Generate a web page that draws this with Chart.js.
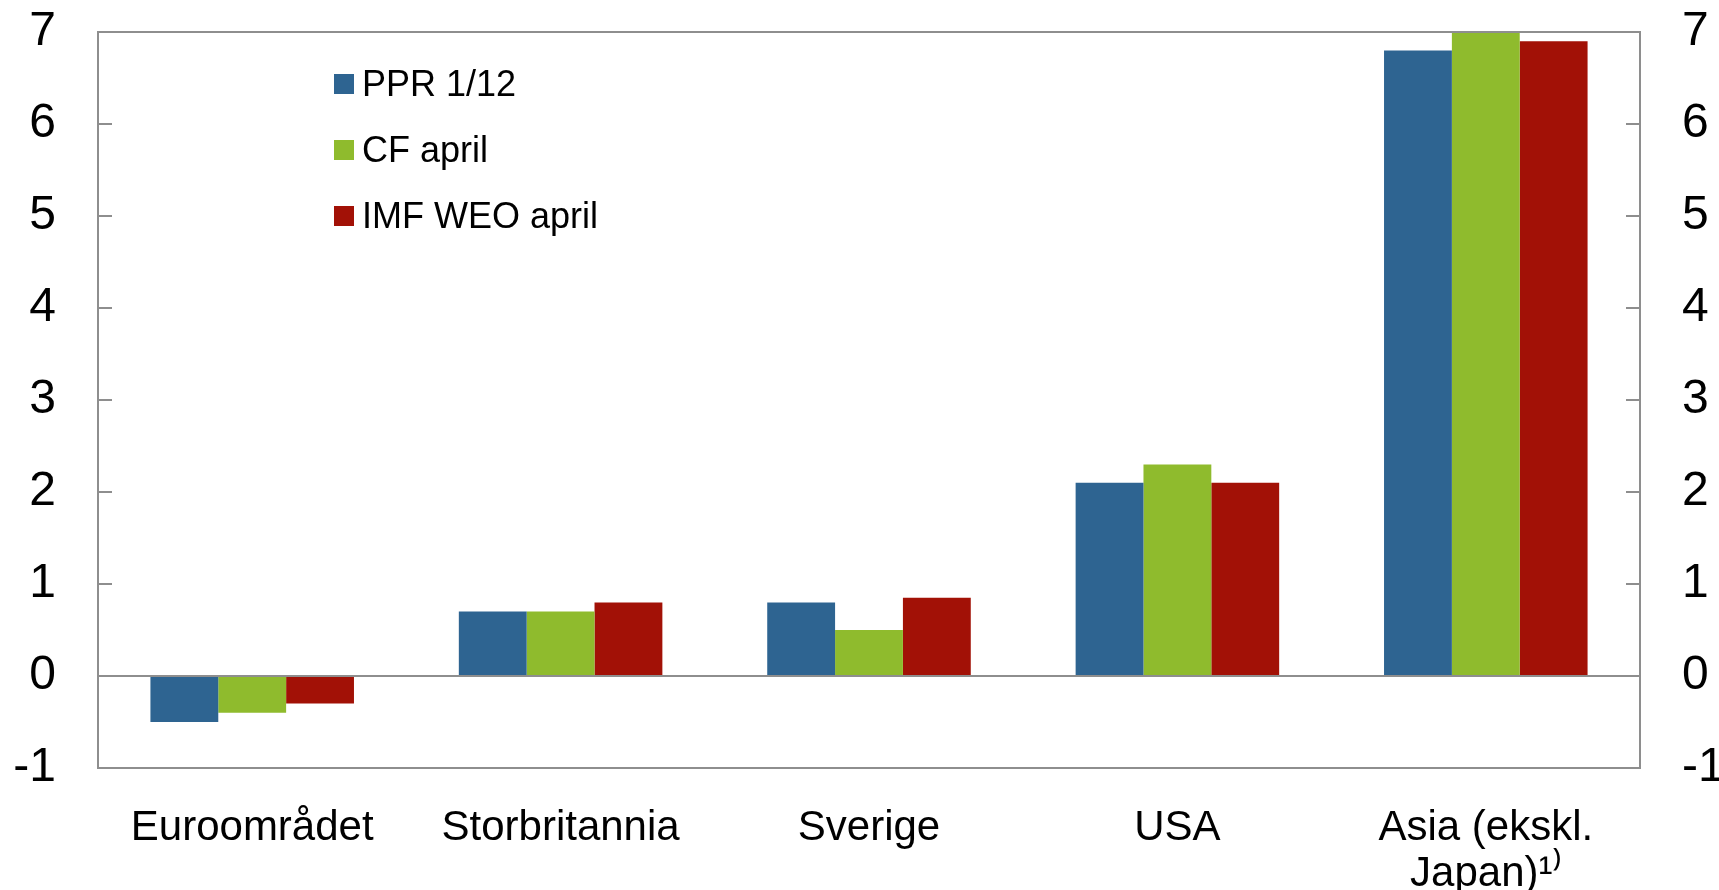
<!DOCTYPE html>
<html>
<head>
<meta charset="utf-8">
<script src="https://cdn.jsdelivr.net/npm/chart.js@4.4.1/dist/chart.umd.min.js"></script>
<style>
  html, body { margin: 0; padding: 0; background: #fff; }
  #wrap { position: relative; width: 1719px; height: 890px; overflow: hidden; }
  #legend { position: absolute; left: 334px; top: 64px; font-family: 'Liberation Sans', Arial, sans-serif; font-size: 36px; color: #000; }
  .rad { display: flex; align-items: center; height: 40px; margin-bottom: 26px; white-space: nowrap; }
  .boks { width: 20px; height: 20px; margin-right: 8px; flex: none; }
</style>
</head>
<body>
<div id="wrap">
  <canvas id="graf" width="1719" height="890"></canvas>
  <div id="legend"></div>
</div>
<script>
// Data
const kategorier = ['Euroområdet', 'Storbritannia', 'Sverige', 'USA', ['Asia (ekskl.', 'Japan)¹⁾']];
const serieNavn = ['PPR 1/12', 'CF april', 'IMF WEO april'];
const ppr = [-0.5, 0.7, 0.8, 2.1, 6.8];
const cf = [-0.4, 0.7, 0.5, 2.3, 7.0];
const imf = [-0.3, 0.8, 0.85, 2.1, 6.9];
const yTicks = [-1, 0, 1, 2, 3, 4, 5, 6, 7];

const farger = ['#2E6491', '#8FBB2D', '#A21106'];
const gra = '#8E8E8E';
const font = "'Liberation Sans', Arial, sans-serif";

// tegner innvendige tick-streker og topplinje
const innerTicks = {
    id: 'innerTicks',
    afterDraw(chart) {
        const c = chart.ctx;
        const area = chart.chartArea;
        const y = chart.scales.y;
        c.save();
        c.strokeStyle = gra;
        c.lineWidth = 2;
        c.beginPath();
        c.moveTo(area.left, area.top);
        c.lineTo(area.right, area.top);
        yTicks.forEach(v => {
            const py = Math.round(y.getPixelForValue(v));
            c.moveTo(area.left, py);
            c.lineTo(area.left + 14, py);
            c.moveTo(area.right - 14, py);
            c.lineTo(area.right, py);
        });
        c.stroke();
        c.restore();
    }
};

const yAkse = (pos) => ({
    position: pos,
    min: -1,
    max: 7,
    afterBuildTicks: (s) => { s.ticks = yTicks.map(v => ({ value: v })); },
    afterFit: (s) => {
        s.width = pos === 'left' ? 98 : 79;
        s.paddingTop = 0;
        s.paddingBottom = 0;
    },
    ticks: {
        color: '#000',
        padding: pos === 'left' ? 42 : 42,
        font: { size: 48, family: font }
    },
    grid: {
        display: pos === 'left',
        drawTicks: false,
        lineWidth: 2,
        color: (ctx) => (ctx.tick && ctx.tick.value === 0) ? gra : 'transparent'
    },
    border: { display: true, color: gra, width: 2 }
});

const ctx = document.getElementById('graf').getContext('2d');
const chart = new Chart(ctx, {
    type: 'bar',
    data: {
        labels: kategorier,
        datasets: [ppr, cf, imf].map((d, i) => ({
            label: serieNavn[i],
            data: d,
            backgroundColor: farger[i],
            borderWidth: 0,
            categoryPercentage: 0.66,
            barPercentage: 1.0,
            yAxisID: 'y'
        }))
    },
    options: {
        responsive: false,
        animation: false,
        layout: { padding: { top: 32, left: 0, right: 0, bottom: 0 } },
        plugins: {
            legend: { display: false },
            tooltip: { enabled: false }
        },
        scales: {
            x: {
                afterFit: (s) => {
                    s.height = 122;
                    s.paddingLeft = 0;
                    s.paddingRight = 0;
                },
                ticks: {
                    color: '#000',
                    padding: 37,
                    maxRotation: 0,
                    autoSkip: false,
                    font: { size: 42, family: font, lineHeight: 1.1 }
                },
                grid: { display: false, drawTicks: false },
                border: { display: true, color: gra, width: 2 }
            },
            y: yAkse('left'),
            y2: yAkse('right')
        }
    },
    plugins: [innerTicks]
});

// Legende
const leg = document.getElementById('legend');
serieNavn.forEach((navn, i) => {
    const rad = document.createElement('div');
    rad.className = 'rad';
    rad.innerHTML = '<span class="boks" style="background:' + farger[i] + '"></span><span>' + navn + '</span>';
    leg.appendChild(rad);
});
</script>
</body>
</html>
